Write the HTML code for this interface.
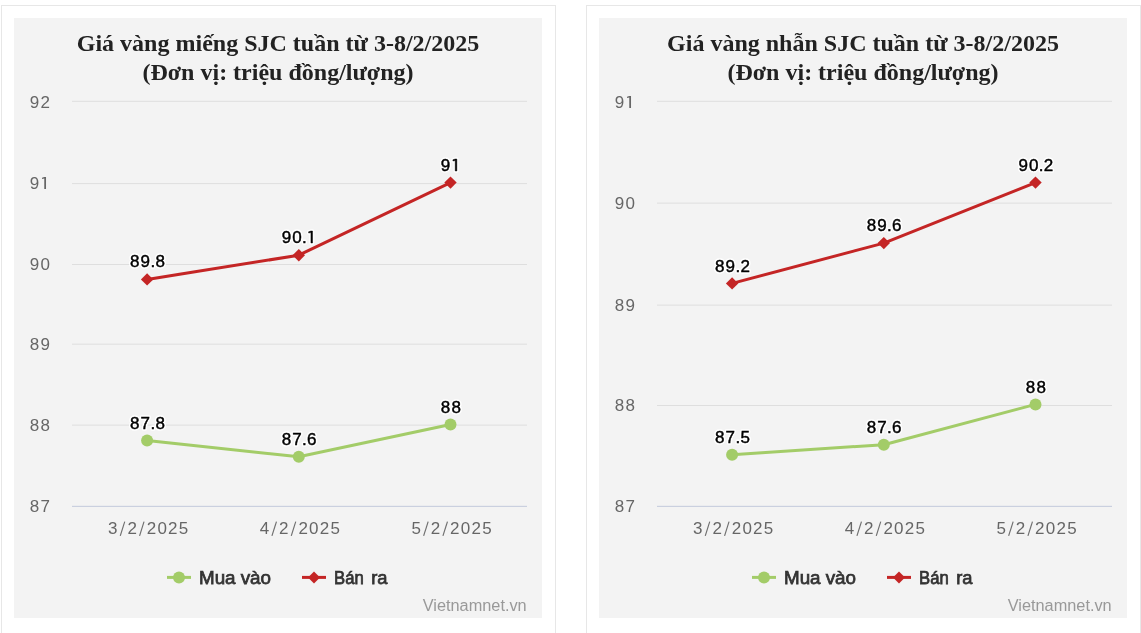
<!DOCTYPE html>
<html lang="vi">
<head>
<meta charset="utf-8">
<title>Giá vàng SJC</title>
<style>
html,body{margin:0;padding:0;background:#fff;overflow:hidden;}
body{width:1141px;height:633px;overflow:hidden;position:relative;font-family:"Liberation Sans",sans-serif;}
.p{position:absolute;top:5px;width:553px;height:627px;border:1px solid #e7e7e7;border-bottom:none;background:#fff;box-sizing:content-box;}
.p1{left:1px;}
.p2{left:586px;}
.g{position:absolute;left:12px;top:12px;width:528px;height:600px;background:#f3f3f3;}
.c{position:absolute;left:0;top:0;display:block;will-change:transform;}
.t{font-family:"Liberation Serif",serif;font-weight:bold;font-size:24px;fill:#222;}
.yl,.xl{font-family:"Liberation Sans",sans-serif;font-size:17px;fill:#666;}
.df{font-family:"Liberation Sans",sans-serif;font-size:17px;}
.h{fill:none;stroke:none;}
.dh{fill:#fff;stroke:#fff;stroke-width:3.4px;stroke-linejoin:round;}
.dl{fill:#000;stroke:#000;stroke-width:0.45px;}
.lg{font-family:"Liberation Sans",sans-serif;font-size:18px;fill:#333;stroke:#333;stroke-width:0.75px;}
.cr{font-family:"Liberation Sans",sans-serif;font-size:15.6px;fill:#999;}
</style>
</head>
<body>
<div class="p p1">
<div class="g"><svg class="c" width="528" height="600" viewBox="0 0 528 600">
<text class="t" x="264" y="33" text-anchor="middle">Giá vàng miếng SJC tuần từ 3-8/2/2025</text>
<text class="t" x="264" y="62" text-anchor="middle">(Đơn vị: triệu đồng/lượng)</text>
<rect x="58" y="487.85" width="455" height="1" fill="#c3cadb"/>
<text class="yl" x="15.82 26.52" y="494.0">87</text>
<rect x="58" y="406.60" width="455" height="1" fill="#dedede"/>
<text class="yl" x="15.82 26.52" y="413.0">88</text>
<rect x="58" y="325.70" width="455" height="1" fill="#dedede"/>
<text class="yl" x="15.82 26.52" y="332.0">89</text>
<rect x="58" y="246.00" width="455" height="1" fill="#dedede"/>
<text class="yl" x="15.82 26.52" y="252.0">90</text>
<rect x="58" y="165.10" width="455" height="1" fill="#dedede"/>
<text class="yl" x="15.82 26.52" y="171.0">9<tspan class="h">1</tspan></text><path d="M30.27 159.00H32.02V171.00H30.27V160.55L28.04 161.00V159.75Z" fill="#666"/>
<rect x="58" y="82.80" width="455" height="1" fill="#dedede"/>
<text class="yl" x="15.82 26.52" y="90.0">92</text>
<text class="xl" x="94.12 106.14 113.42 125.44 132.72 143.42 154.12 164.82" y="515.8">3<tspan class="h">/</tspan>2<tspan class="h">/</tspan>2025</text><path d="M110.75 503.70L106.25 517.80" stroke="#6e6e6e" stroke-width="1.15" fill="none"/><path d="M130.05 503.70L125.55 517.80" stroke="#6e6e6e" stroke-width="1.15" fill="none"/>
<text class="xl" x="245.82 257.84 265.12 277.14 284.42 295.12 305.82 316.52" y="515.8">4<tspan class="h">/</tspan>2<tspan class="h">/</tspan>2025</text><path d="M262.45 503.70L257.95 517.80" stroke="#6e6e6e" stroke-width="1.15" fill="none"/><path d="M281.75 503.70L277.25 517.80" stroke="#6e6e6e" stroke-width="1.15" fill="none"/>
<text class="xl" x="397.52 409.54 416.82 428.84 436.12 446.82 457.52 468.22" y="515.8">5<tspan class="h">/</tspan>2<tspan class="h">/</tspan>2025</text><path d="M414.15 503.70L409.65 517.80" stroke="#6e6e6e" stroke-width="1.15" fill="none"/><path d="M433.45 503.70L428.95 517.80" stroke="#6e6e6e" stroke-width="1.15" fill="none"/>
<path d="M133.1 422.6 L284.8 438.8 L436.5 406.5" stroke="#a3cc68" stroke-width="3" fill="none" stroke-linejoin="round" stroke-linecap="round"/>
<circle cx="133.1" cy="422.6" r="6" fill="#a3cc68"/>
<circle cx="284.8" cy="438.8" r="6" fill="#a3cc68"/>
<circle cx="436.5" cy="406.5" r="6" fill="#a3cc68"/>
<path d="M133.1 261.4 L284.8 237.2 L436.5 164.6" stroke="#c42525" stroke-width="3" fill="none" stroke-linejoin="round" stroke-linecap="round"/>
<path d="M133.1 255.2L139.3 261.4L133.1 267.6L126.9 261.4Z" fill="#c42525"/>
<path d="M284.8 231.0L291.0 237.2L284.8 243.4L278.6 237.2Z" fill="#c42525"/>
<path d="M436.5 158.4L442.7 164.6L436.5 170.8L430.3 164.6Z" fill="#c42525"/>
<defs><g id="mb0"><text class="df" x="116.02 126.62 136.39 141.42" y="411.0">87.8</text></g></defs><use href="#mb0" class="dh"/><use href="#mb0" class="dl"/>
<defs><g id="mb1"><text class="df" x="267.72 278.32 288.09 293.12" y="427.0">87.6</text></g></defs><use href="#mb1" class="dh"/><use href="#mb1" class="dl"/>
<defs><g id="mb2"><text class="df" x="426.82 437.42" y="395.0">88</text></g></defs><use href="#mb2" class="dh"/><use href="#mb2" class="dl"/>
<defs><g id="ms0"><text class="df" x="116.02 126.62 136.39 141.42" y="249.0">89.8</text></g></defs><use href="#ms0" class="dh"/><use href="#ms0" class="dl"/>
<defs><g id="ms1"><text class="df" x="267.72 278.32 288.09 293.12" y="225.0">90.<tspan class="h">1</tspan></text><path d="M296.94 213.00H298.54V225.00H296.94V214.55L294.64 215.00V213.75Z"/></g></defs><use href="#ms1" class="dh"/><use href="#ms1" class="dl"/>
<defs><g id="ms2"><text class="df" x="426.82 437.42" y="153.0">9<tspan class="h">1</tspan></text><path d="M441.24 141.00H442.84V153.00H441.24V142.55L438.94 143.00V141.75Z"/></g></defs><use href="#ms2" class="dh"/><use href="#ms2" class="dl"/>
<path d="M153 559.4H177" stroke="#a3cc68" stroke-width="3"/>
<circle cx="165" cy="559.4" r="6" fill="#a3cc68"/>
<text class="lg" x="185" y="565.7" textLength="72" lengthAdjust="spacingAndGlyphs">Mua vào</text>
<path d="M288 559.4H312" stroke="#c42525" stroke-width="3"/>
<path d="M300 553.4L306 559.4L300 565.4L294 559.4Z" fill="#c42525"/>
<text class="lg" x="320" y="565.7" textLength="29.7" lengthAdjust="spacingAndGlyphs">Bán</text>
<text class="lg" x="357.2" y="565.7" textLength="16.3" lengthAdjust="spacingAndGlyphs">ra</text>
<text class="cr" x="408.7" y="593" textLength="104" lengthAdjust="spacingAndGlyphs">Vietnamnet.vn</text>
</svg></div>
</div>
<div class="p p2">
<div class="g"><svg class="c" width="528" height="600" viewBox="0 0 528 600">
<text class="t" x="264" y="33" text-anchor="middle">Giá vàng nhẫn SJC tuần từ 3-8/2/2025</text>
<text class="t" x="264" y="62" text-anchor="middle">(Đơn vị: triệu đồng/lượng)</text>
<rect x="58" y="487.85" width="455" height="1" fill="#c3cadb"/>
<text class="yl" x="15.82 26.52" y="494.0">87</text>
<rect x="58" y="387.00" width="455" height="1" fill="#dedede"/>
<text class="yl" x="15.82 26.52" y="393.0">88</text>
<rect x="58" y="286.60" width="455" height="1" fill="#dedede"/>
<text class="yl" x="15.82 26.52" y="293.0">89</text>
<rect x="58" y="184.60" width="455" height="1" fill="#dedede"/>
<text class="yl" x="15.82 26.52" y="191.0">90</text>
<rect x="58" y="82.80" width="455" height="1" fill="#dedede"/>
<text class="yl" x="15.82 26.52" y="90.0">9<tspan class="h">1</tspan></text><path d="M30.27 78.00H32.02V90.00H30.27V79.55L28.04 80.00V78.75Z" fill="#666"/>
<text class="xl" x="94.12 106.14 113.42 125.44 132.72 143.42 154.12 164.82" y="515.8">3<tspan class="h">/</tspan>2<tspan class="h">/</tspan>2025</text><path d="M110.75 503.70L106.25 517.80" stroke="#6e6e6e" stroke-width="1.15" fill="none"/><path d="M130.05 503.70L125.55 517.80" stroke="#6e6e6e" stroke-width="1.15" fill="none"/>
<text class="xl" x="245.82 257.84 265.12 277.14 284.42 295.12 305.82 316.52" y="515.8">4<tspan class="h">/</tspan>2<tspan class="h">/</tspan>2025</text><path d="M262.45 503.70L257.95 517.80" stroke="#6e6e6e" stroke-width="1.15" fill="none"/><path d="M281.75 503.70L277.25 517.80" stroke="#6e6e6e" stroke-width="1.15" fill="none"/>
<text class="xl" x="397.52 409.54 416.82 428.84 436.12 446.82 457.52 468.22" y="515.8">5<tspan class="h">/</tspan>2<tspan class="h">/</tspan>2025</text><path d="M414.15 503.70L409.65 517.80" stroke="#6e6e6e" stroke-width="1.15" fill="none"/><path d="M433.45 503.70L428.95 517.80" stroke="#6e6e6e" stroke-width="1.15" fill="none"/>
<path d="M133.1 436.8 L284.8 426.7 L436.5 386.4" stroke="#a3cc68" stroke-width="3" fill="none" stroke-linejoin="round" stroke-linecap="round"/>
<circle cx="133.1" cy="436.8" r="6" fill="#a3cc68"/>
<circle cx="284.8" cy="426.7" r="6" fill="#a3cc68"/>
<circle cx="436.5" cy="386.4" r="6" fill="#a3cc68"/>
<path d="M133.1 265.4 L284.8 225.1 L436.5 164.6" stroke="#c42525" stroke-width="3" fill="none" stroke-linejoin="round" stroke-linecap="round"/>
<path d="M133.1 259.2L139.3 265.4L133.1 271.6L126.9 265.4Z" fill="#c42525"/>
<path d="M284.8 218.9L291.0 225.1L284.8 231.3L278.6 225.1Z" fill="#c42525"/>
<path d="M436.5 158.4L442.7 164.6L436.5 170.8L430.3 164.6Z" fill="#c42525"/>
<defs><g id="nb0"><text class="df" x="116.02 126.62 136.39 141.42" y="425.0">87.5</text></g></defs><use href="#nb0" class="dh"/><use href="#nb0" class="dl"/>
<defs><g id="nb1"><text class="df" x="267.72 278.32 288.09 293.12" y="415.0">87.6</text></g></defs><use href="#nb1" class="dh"/><use href="#nb1" class="dl"/>
<defs><g id="nb2"><text class="df" x="426.82 437.42" y="375.0">88</text></g></defs><use href="#nb2" class="dh"/><use href="#nb2" class="dl"/>
<defs><g id="ns0"><text class="df" x="116.02 126.62 136.39 141.42" y="254.0">89.2</text></g></defs><use href="#ns0" class="dh"/><use href="#ns0" class="dl"/>
<defs><g id="ns1"><text class="df" x="267.72 278.32 288.09 293.12" y="213.0">89.6</text></g></defs><use href="#ns1" class="dh"/><use href="#ns1" class="dl"/>
<defs><g id="ns2"><text class="df" x="419.42 430.02 439.79 444.82" y="153.0">90.2</text></g></defs><use href="#ns2" class="dh"/><use href="#ns2" class="dl"/>
<path d="M153 559.4H177" stroke="#a3cc68" stroke-width="3"/>
<circle cx="165" cy="559.4" r="6" fill="#a3cc68"/>
<text class="lg" x="185" y="565.7" textLength="72" lengthAdjust="spacingAndGlyphs">Mua vào</text>
<path d="M288 559.4H312" stroke="#c42525" stroke-width="3"/>
<path d="M300 553.4L306 559.4L300 565.4L294 559.4Z" fill="#c42525"/>
<text class="lg" x="320" y="565.7" textLength="29.7" lengthAdjust="spacingAndGlyphs">Bán</text>
<text class="lg" x="357.2" y="565.7" textLength="16.3" lengthAdjust="spacingAndGlyphs">ra</text>
<text class="cr" x="408.7" y="593" textLength="104" lengthAdjust="spacingAndGlyphs">Vietnamnet.vn</text>
</svg></div>
</div>
</body>
</html>
